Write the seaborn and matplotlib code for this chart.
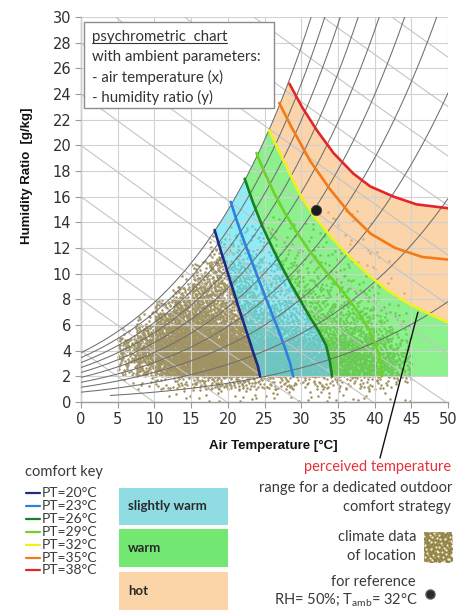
import numpy as np
import pandas as pd
import matplotlib
matplotlib.use("Agg")
import matplotlib.pyplot as plt
import seaborn as sns
from matplotlib.patches import Polygon, Rectangle
from matplotlib.lines import Line2D

# ---------------------------------------------------------------- data
# perceived-temperature isolines: air temperature [°C] / humidity ratio [g/kg],
# each listed from the saturation curve down to its lower end
pt_labels = ["PT=20°C", "PT=23°C", "PT=26°C", "PT=29°C", "PT=32°C", "PT=35°C", "PT=38°C"]
pt_colors = ["#1f2a80", "#2f7fe0", "#17801f", "#6fd12a", "#f0f020", "#f27a18", "#e3262b"]

pt20_t = [18.2, 19.2, 20.3, 21.4, 22.6, 23.5, 24.1, 24.4]
pt20_w = [13.4, 11.5, 9.5, 7.5, 5.4, 3.8, 2.8, 2.0]
pt23_t = [20.4, 21.3, 22.3, 23.5, 24.7, 25.8, 26.9, 27.8, 28.5, 28.9]
pt23_w = [15.6, 14.0, 12.4, 10.6, 8.8, 7.2, 5.6, 4.2, 3.0, 2.0]
pt26_t = [22.3, 23.4, 24.7, 26.0, 27.3, 28.6, 29.9, 31.2, 32.4, 33.4, 33.9, 34.2]
pt26_w = [17.4, 15.6, 13.7, 12.1, 10.6, 9.2, 7.9, 6.6, 5.5, 4.4, 3.2, 2.0]
pt29_t = [23.9, 25.0, 26.3, 27.7, 29.3, 31.1, 33.0, 34.8, 36.5, 38.0, 39.3, 40.2, 40.8, 41.0]
pt29_w = [19.4, 17.9, 16.3, 14.8, 13.3, 11.8, 10.4, 9.2, 8.0, 6.8, 5.6, 4.4, 3.2, 2.0]
pt32_t = [25.6, 27.6, 29.8, 31.6, 34.0, 36.6, 39.2, 41.8, 44.5, 47.3, 50.0]
pt32_w = [21.2, 18.8, 16.2, 14.6, 12.9, 11.3, 9.9, 8.7, 7.7, 6.9, 6.2]
pt35_t = [27.0, 28.7, 31.2, 33.9, 36.6, 39.5, 42.8, 46.5, 50.0]
pt35_w = [23.3, 21.4, 18.8, 16.6, 14.7, 13.1, 12.0, 11.3, 11.1]
pt38_t = [28.4, 30.1, 32.1, 34.4, 37.1, 39.4, 42.6, 45.7, 50.0]
pt38_w = [24.8, 23.0, 21.2, 19.4, 17.8, 16.8, 16.0, 15.4, 15.1]

# comfort zones
zone_labels = ["slightly warm", "warm", "hot"]
zone_colors = ["#8fdce3", "#72e872", "#fbd4a8"]
zone_fill_rgb = ["#54e2f4", "#4ee84e", "#fbbd7d"]
zone_floor = 2.0          # humidity ratio where the zones start [g/kg]

# reference state: RH = 50 %, T_amb = 32 °C
ref_t = [32.0]
ref_w = [15.0]

# climate data of the location: hours per cell, 2.5 °C x 1 g/kg bins
clim_t_edges = list(np.arange(0.0, 50.1, 2.5))
clim_w_edges = list(np.arange(0.0, 15.1, 1.0))
clim_hours = [
    [0, 0, 0, 0, 1, 3, 4, 4, 4, 4, 4, 4, 4, 4, 4, 4, 3, 2, 0, 0],
    [0, 0, 3, 6, 12, 18, 24, 30, 30, 26, 20, 18, 16, 16, 16, 16, 14, 10, 0, 0],
    [0, 0, 25, 50, 85, 115, 140, 150, 150, 140, 135, 130, 125, 115, 90, 80, 65, 35, 0, 0],
    [0, 0, 40, 80, 110, 140, 155, 160, 160, 150, 140, 130, 115, 100, 90, 80, 60, 30, 0, 0],
    [0, 0, 40, 80, 115, 130, 145, 145, 140, 130, 120, 105, 85, 70, 70, 60, 40, 15, 0, 0],
    [0, 0, 5, 55, 95, 110, 115, 105, 95, 85, 75, 60, 50, 45, 45, 38, 22, 8, 0, 0],
    [0, 0, 0, 12, 65, 85, 90, 80, 65, 55, 45, 38, 34, 30, 30, 22, 12, 4, 0, 0],
    [0, 0, 0, 0, 25, 65, 70, 60, 50, 40, 35, 30, 25, 20, 17, 12, 6, 2, 0, 0],
    [0, 0, 0, 0, 0, 30, 60, 55, 45, 35, 28, 22, 18, 14, 10, 7, 4, 1, 0, 0],
    [0, 0, 0, 0, 0, 5, 40, 45, 38, 28, 22, 17, 12, 9, 7, 5, 2, 0, 0, 0],
    [0, 0, 0, 0, 0, 0, 15, 35, 28, 20, 15, 12, 8, 6, 5, 3, 1, 0, 0, 0],
    [0, 0, 0, 0, 0, 0, 0, 20, 18, 14, 10, 7, 6, 5, 3, 2, 1, 0, 0, 0],
    [0, 0, 0, 0, 0, 0, 0, 6, 12, 9, 6, 5, 4, 3, 2, 1, 0, 0, 0, 0],
    [0, 0, 0, 0, 0, 0, 0, 0, 4, 5, 4, 3, 3, 2, 2, 1, 0, 0, 0, 0],
    [0, 0, 0, 0, 0, 0, 0, 0, 0, 2, 2, 2, 2, 2, 2, 1, 0, 0, 0, 0],
]

x_ticks = list(range(0, 51, 5))
y_ticks = list(range(0, 31, 2))
rh_levels = [0.1, 0.2, 0.3, 0.4, 0.5, 0.6, 0.7, 0.8, 0.9, 1.0]
enthalpy_levels = list(range(10, 201, 10))   # kJ/kg

# ---------------------------------------------------------------- psychrometrics
P_ATM = 99.5  # kPa


def p_sat(t):
    return 0.61094 * np.exp(17.625 * t / (t + 243.04))


def w_rh(t, rh):
    pv = rh * p_sat(t)
    return 622.0 * pv / (P_ATM - pv)


def w_enthalpy(t, h):
    return 1000.0 * (h - 1.006 * t) / (2501.0 + 1.86 * t)


def radical_inverse(n, base):
    n = n.copy()
    out = np.zeros(n.shape, dtype=float)
    f = 1.0
    while np.any(n > 0):
        f /= base
        out += f * (n % base)
        n //= base
    return out


# ---------------------------------------------------------------- figure
W, H = 457, 612
sns.set_theme(style="white")
plt.rcParams["font.family"] = ["DejaVu Sans"]
plt.rcParams["mathtext.fontset"] = "custom"
plt.rcParams["mathtext.rm"] = "Lato"
plt.rcParams["mathtext.it"] = "Lato:italic"

fig = plt.figure(figsize=(W / 100, H / 100), dpi=100)
fig.patch.set_facecolor("white")
ax = fig.add_axes([81 / W, 1 - 402 / H, 367 / W, 385 / H])
ax.set_facecolor("white")


def fx(px):
    return px / W


def fy(py):
    return 1 - py / H


# climate data scatter: Halton candidates over the chart, thinned to the
# hours of each cell and kept below saturation
hours = np.array(clim_hours, dtype=float)
dens = hours / (2.5 * 1.0)
n_cand = int(dens.max() * 50 * 15)
idx = np.arange(1, n_cand + 1)
cand_t = radical_inverse(idx, 2) * 50.0
cand_w = radical_inverse(idx, 3) * 15.0
cand_u = radical_inverse(idx, 5)
ci = np.minimum((cand_t / 2.5).astype(int), hours.shape[1] - 1)
cj = np.minimum(cand_w.astype(int), hours.shape[0] - 1)
keep = (cand_u < dens[cj, ci] / dens.max()) & (cand_w < w_rh(cand_t, 1.0))
clim = pd.DataFrame({"t": cand_t[keep], "w": cand_w[keep]})
sns.scatterplot(data=clim, x="t", y="w", s=3.3, color="#a09262", linewidth=0,
                ax=ax, zorder=1, legend=False)

# comfort zone fills bounded by the saturation curve and the floor
curves = {20: (pt20_t, pt20_w), 23: (pt23_t, pt23_w), 26: (pt26_t, pt26_w),
          29: (pt29_t, pt29_w), 32: (pt32_t, pt32_w), 35: (pt35_t, pt35_w),
          38: (pt38_t, pt38_w)}


def zone_polygon(left, right):
    lt, lw = curves[left]
    rt, rw = curves[right]
    poly = list(zip(lt[::-1], lw[::-1]))
    ts = np.linspace(lt[0], rt[0], 30)
    poly += list(zip(ts, w_rh(ts, 1.0)))
    poly += list(zip(rt, rw))
    if rw[-1] > zone_floor + 0.01:
        poly += [(50.0, rw[-1])]
        if lw[-1] > zone_floor + 0.01:
            poly += [(50.0, lw[-1])]
        else:
            poly += [(50.0, zone_floor)]
    return poly


for (lo, hi), col in zip([(20, 26), (26, 32), (32, 38)], zone_fill_rgb):
    ax.add_patch(Polygon(zone_polygon(lo, hi), closed=True, facecolor=col,
                         edgecolor="none", alpha=0.65, zorder=2))

# enthalpy lines
tt = np.linspace(-5, 55, 200)
for h in enthalpy_levels:
    ax.plot(tt, w_enthalpy(tt, h), color="#c4c4c4", lw=0.8, zorder=2.6)

# relative humidity lines
for rh in rh_levels:
    ts = np.linspace(4.0 if rh < 0.15 else 0.0, 50, 200)
    ax.plot(ts, w_rh(ts, rh), color="#6e6e6e", lw=0.75, zorder=2.7)

# perceived temperature isolines
for (key, (ct, cw)), col in zip(curves.items(), pt_colors):
    sns.lineplot(x=ct, y=cw, sort=False, estimator=None, color=col, lw=1.9,
                 ax=ax, zorder=4, legend=False)

# reference point
sns.scatterplot(x=ref_t, y=ref_w, s=55, color="#1b1b1b", edgecolor="#444444",
                linewidth=0.6, ax=ax, zorder=5, legend=False)

ax.set_xlim(0, 50)
ax.set_ylim(0, 30)
ax.set_xticks(x_ticks)
ax.set_yticks(y_ticks)
ax.set_axisbelow(False)
ax.grid(True, color="#d2d2d2", lw=0.8)
for s in ["top", "right"]:
    ax.spines[s].set_visible(False)
for s in ["left", "bottom"]:
    ax.spines[s].set_color("#9a9a9a")
    ax.spines[s].set_linewidth(1.0)
ax.tick_params(axis="both", which="both", direction="out", length=4, width=0.8,
               color="#9a9a9a", labelcolor="#303030", labelsize=10.5, pad=3,
               bottom=True, left=True)
ax.set_xlabel("")
ax.set_ylabel("")

# axis titles
fig.text(fx(273), fy(446), "Air Temperature [°C]", ha="center", va="center",
         fontsize=9.5, fontweight="bold", family="Liberation Sans", color="#111111")
fig.text(fx(27), fy(176), "Humidity Ratio  [g/kg]", ha="center", va="center",
         rotation=90, fontsize=9.5, fontweight="bold", family="Liberation Sans",
         color="#111111")

# annotation line to the comfort strategy note
ax.annotate("", xy=(45.9, 7.0), xycoords="data", xytext=(fx(380), fy(458)),
            textcoords="figure fraction", annotation_clip=False,
            arrowprops=dict(arrowstyle="-", color="#111111", lw=1.0,
                            shrinkA=0, shrinkB=0), zorder=6)

# info box
fig.add_artist(Rectangle((fx(84), fy(108)), 190 / W, 86 / H, transform=fig.transFigure,
                         facecolor="white", edgecolor="#8c8c8c", lw=1.0, zorder=10))
box_lines = ["psychrometric  chart", "with ambient parameters:",
             "- air temperature (x)", "- humidity ratio (y)"]
box_y = [37, 57, 77, 97]
box_texts = []
for s, yy in zip(box_lines, box_y):
    box_texts.append(fig.text(fx(92), fy(yy), s, ha="left", va="center",
                              fontsize=10.8, family="Lato", color="#333333", zorder=11))

# comfort key
lato = dict(family="Lato", color="#3a3a3a")
fig.text(fx(25), fy(472), "comfort key", ha="left", va="center", fontsize=10.5, **lato)
key_y = [493, 506, 519, 532, 545, 558, 570]
for lab, col, yy in zip(pt_labels, pt_colors, key_y):
    fig.add_artist(Line2D([fx(26), fx(40)], [fy(yy), fy(yy)], color=col, lw=1.6,
                          transform=fig.transFigure))
    fig.text(fx(42), fy(yy), lab, ha="left", va="center", fontsize=10, **lato)

box_rows = [(488, 525), (529, 567), (572, 610)]
for lab, col, (y0, y1) in zip(zone_labels, zone_colors, box_rows):
    fig.add_artist(Rectangle((fx(119), fy(y1)), 109 / W, (y1 - y0) / H,
                             transform=fig.transFigure, facecolor=col,
                             edgecolor="none"))
    fig.text(fx(128), fy((y0 + y1) / 2), lab, ha="left", va="center",
             fontsize=9.5, fontweight="bold", family="Lato", color="#2a2a2a")

# right-hand notes
fig.text(fx(451), fy(467), "perceived temperature", ha="right", va="center",
         fontsize=10.5, family="Lato", color="#e8303a")
fig.text(fx(452), fy(488), "range for a dedicated outdoor", ha="right", va="center",
         fontsize=10.5, **lato)
fig.text(fx(451), fy(507), "comfort strategy", ha="right", va="center",
         fontsize=10.5, **lato)
fig.text(fx(416), fy(537), "climate data", ha="right", va="center", fontsize=10.5, **lato)
fig.text(fx(416), fy(556), "of location", ha="right", va="center", fontsize=10.5, **lato)
fig.text(fx(416), fy(582), "for reference", ha="right", va="center", fontsize=10.5, **lato)
fig.text(fx(418), fy(600), r"RH= 50%; T$_\mathrm{amb}$= 32°C", ha="right", va="center",
         fontsize=10.5, **lato)

# climate data swatch
sw = fig.add_axes([fx(424), fy(562), 28 / W, 30 / H])
sw.set_facecolor("#c3b373")
m = np.arange(1, 261)
sw.scatter(radical_inverse(m, 2), radical_inverse(m, 3), s=2.5, color="#8f8048",
           linewidths=0)
m2 = np.arange(300, 340)
sw.scatter(radical_inverse(m2, 2), radical_inverse(m2, 3), s=2.5, color="#f3eed6",
           linewidths=0)
sw.set_xlim(0, 1)
sw.set_ylim(0, 1)
sw.set_xticks([])
sw.set_yticks([])
for s in sw.spines.values():
    s.set_visible(False)

# reference dot in the key
fig.add_artist(Line2D([fx(430)], [fy(594)], marker="o", markersize=6.5, color="#2a2a2a",
                      markeredgecolor="#555555", transform=fig.transFigure))

# underline the box heading
fig.canvas.draw()
bb = box_texts[0].get_window_extent(fig.canvas.get_renderer())
fig.add_artist(Line2D([bb.x0 / W, bb.x1 / W], [(bb.y0 + 1.5) / H] * 2, color="#333333",
                      lw=0.8, transform=fig.transFigure, zorder=11))

fig.savefig("out.png", dpi=100, facecolor="white")
